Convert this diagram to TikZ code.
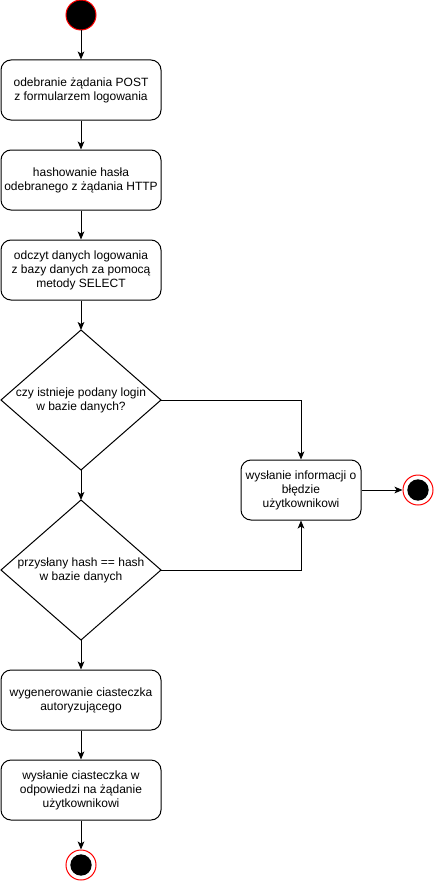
\documentclass[tikz,border=0pt]{standalone}
\usepackage{fontspec}
\setmainfont{Liberation Sans}
\usetikzlibrary{arrows.meta,shapes.geometric}
\begin{document}
\begin{tikzpicture}[x=0.75pt,y=-0.75pt,
  every node/.style={font=\fontsize{9}{10.5}\selectfont},
  act/.style={draw, rounded corners=7.5pt, minimum width=120pt, minimum height=45pt, align=center, line width=0.75pt, inner sep=0pt},
  startn/.style={circle, fill=black, draw=red, line width=0.75pt, minimum size=22.5pt, inner sep=0pt},
  endout/.style={circle, draw=red, fill=white, line width=0.75pt, minimum size=22.5pt, inner sep=0pt},
  endin/.style={circle, fill=black, minimum size=16pt, inner sep=0pt},
  arr/.style={-{Stealth[length=6pt,width=5pt,inset=1.5pt]}, line width=0.75pt}
]
\useasboundingbox (0,0) rectangle (434,881);
\node[startn] (s) at (81,15) {};
\node[act] (b1) at (81,90) {odebranie żądania POST\\z formularzem logowania};
\node[act] (b2) at (81,180) {hashowanie hasła\\odebranego z żądania HTTP};
\node[act] (b3) at (81,270) {odczyt danych logowania\\z bazy danych za pomocą\\metody SELECT};
\path (1,400) coordinate (d1w) (161,400) coordinate (d1e) (81,330) coordinate (d1n) (81,470) coordinate (d1s);
\draw[line width=0.75pt] (d1n) -- (d1e) -- (d1s) -- (d1w) -- cycle;
\node[align=center] (d1t) at (81,400) {czy istnieje podany login\\w bazie danych?};
\path (1,570) coordinate (d2w) (161,570) coordinate (d2e) (81,500) coordinate (d2n) (81,640) coordinate (d2s);
\draw[line width=0.75pt] (d2n) -- (d2e) -- (d2s) -- (d2w) -- cycle;
\node[align=center] (d2t) at (81,570) {przysłany hash == hash\\w bazie danych};
\node[act] (b4) at (81,700) {wygenerowanie ciasteczka\\autoryzującego};
\node[act] (b5) at (81,790) {wysłanie ciasteczka w\\odpowiedzi na żądanie\\użytkownikowi};
\node[endout] (e1) at (81,865) {};
\node[endin] (e1i) at (81,865) {};
\node[act, minimum width=90pt] (err) at (301,490) {wysłanie informacji o\\błędzie\\użytkownikowi};
\node[endout] (e2) at (418,490) {};
\node[endin] (e2i) at (418,490) {};
\draw[arr] (s) -- (b1);
\draw[arr] (b1) -- (b2);
\draw[arr] (b2) -- (b3);
\draw[arr] (b3) -- (d1n);
\draw[arr] (d1s) -- (d2n);
\draw[arr] (d2s) -- (b4);
\draw[arr] (b4) -- (b5);
\draw[arr] (b5) -- (e1);
\draw[arr] (d1e) -| (err.north);
\draw[arr] (d2e) -| (err.south);
\draw[arr] (err) -- (e2);
\end{tikzpicture}
\end{document}
